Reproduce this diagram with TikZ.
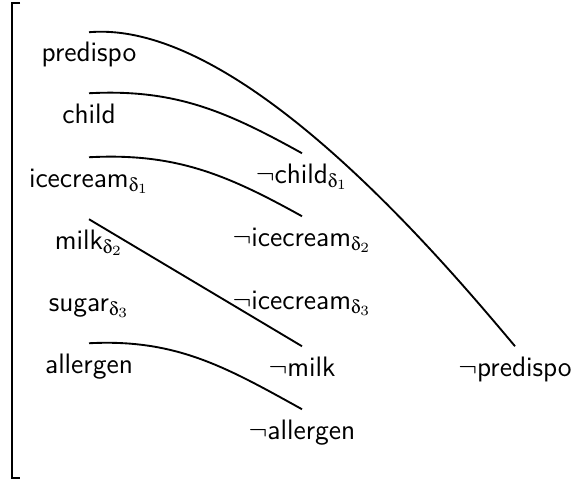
\documentclass[tikz,border=0pt]{standalone}
\usepackage{amsmath,amssymb}
\usepackage[Symbol]{upgreek}
\usepackage{tikz}
\usetikzlibrary{positioning}
\tikzset{
  lit/.style={font=\sffamily\fontsize{12}{14}\selectfont, anchor=base, text height=8pt,
              text depth=3pt, inner xsep=2pt, inner ysep=4.5pt},
  link/.style={draw=black, line width=0.8pt},
  brk/.style={draw=black, line width=1pt},
}

\begin{document}
\begin{tikzpicture}[x=0.015cm, y=0.015cm]
  \useasboundingbox (0,0) rectangle (586,-481);
  % left column
  \node[lit] (predispo) at (89,-62) {predispo};
  \node[lit] (child) at (89,-123) {child};
  \node[lit] (icecream) at (89,-187) {icecream$_{\updelta_1}$};
  \node[lit] (milk) at (89,-249) {milk$_{\updelta_2}$};
  \node[lit] (sugar) at (89,-311) {sugar$_{\updelta_3}$};
  \node[lit] (allergen) at (89,-373) {allergen};
  % middle column
  \node[lit] (nchild) at (302,-183) {$\neg$child$_{\updelta_1}$};
  \node[lit] (nicecreamA) at (302,-246) {$\neg$icecream$_{\updelta_2}$};
  \node[lit] (nicecreamB) at (302,-309) {$\neg$icecream$_{\updelta_3}$};
  \node[lit] (nmilk) at (302,-376) {$\neg$milk};
  \node[lit] (nallergen) at (302,-439) {$\neg$allergen};
  % right column
  \node[lit] (npredispo) at (515,-376) {$\neg$predispo};

  \draw[link] (predispo.north) to[out=5, in=130, out distance=2.25cm, in distance=1.8cm] (npredispo.north);
  \draw[link] (child.north) to[out=3, in=151] (nchild.north);
  \draw[link] (icecream.north) to[out=3, in=151] (nicecreamA.north);
  \draw[link] (milk.north) -- (nmilk.north);
  \draw[link] (allergen.north) to[out=3, in=151] (nallergen.north);

  \draw[brk] (20,-3) -- (12,-3) -- (12,-478) -- (20,-478);
\end{tikzpicture}
\end{document}
